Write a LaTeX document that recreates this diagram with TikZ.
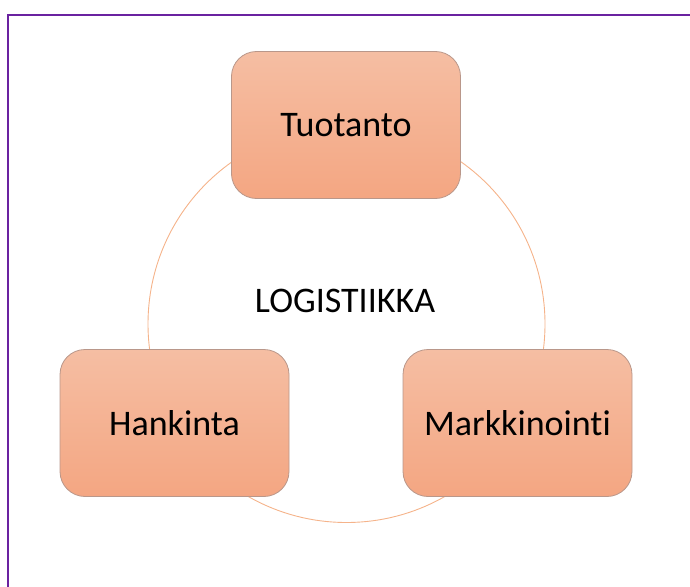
\documentclass[tikz,border=0pt]{standalone}
\usepackage{fontspec}
\setmainfont[Ligatures=NoCommon]{Carlito}
\definecolor{frame}{HTML}{6A22A0}
\definecolor{boxtop}{HTML}{F5BEA3}
\definecolor{boxbot}{HTML}{F4A682}
\definecolor{boxline}{HTML}{B9978A}
\definecolor{ring}{HTML}{F5B38A}
\tikzset{
  area/.style={draw=boxline, line width=0.8pt, top color=boxtop, bottom color=boxbot,
    rounded corners=25pt, minimum width=229pt, minimum height=147pt, inner sep=0pt,
    font=\fontsize{36}{43}\selectfont},
  label/.style={font=\fontsize{36}{43}\selectfont}
}
\begin{document}
\begin{tikzpicture}[x=1pt,y=-1pt]
            \useasboundingbox (0,0) rectangle (690,586);
            \draw[frame, line width=2pt] (7.5,590) |- (694,15.5);
            \coordinate (mid) at (346.5,324);
            \draw[ring, line width=0.9pt] (mid) circle (198.5);
            \node[label] (logi) at (345,301) {LOGISTIIKKA};
            \node[area] (tuot) at (346,125) {Tuotanto};
            \node[area] (hank) at (174.5,423) {Hankinta};
            \node[area] (mark) at (517.5,423) {Markkinointi};
        \end{tikzpicture}
\end{document}
